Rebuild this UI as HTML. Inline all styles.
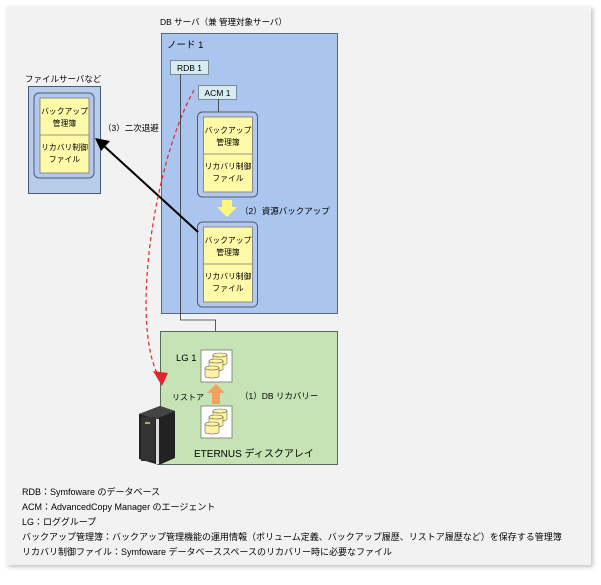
<!DOCTYPE html>
<html><head><meta charset="utf-8"><style>
html,body{margin:0;padding:0;background:#fff;}
svg text{font-family:"Liberation Sans","Noto Sans CJK JP",sans-serif;font-size:8.5px;fill:#000;}
svg text.lg{font-size:9px;}
svg text.s7{font-size:7.8px;}
svg text.s10{font-size:9.5px;}
svg text.s11{font-size:10px;}
svg text.s8{font-size:8px;}
</style></head><body>
<svg width="601" height="580" viewBox="0 0 601 580" xmlns="http://www.w3.org/2000/svg">
<defs>
<filter id="sh" x="-5%" y="-5%" width="110%" height="110%"><feDropShadow dx="2" dy="2" stdDeviation="2" flood-color="#999" flood-opacity="0.6"/></filter>
<g id="docs">
  <rect x="0" y="0" width="60" height="85" rx="5" fill="#b3c8ec" stroke="#505a70" stroke-width="1"/>
  <rect x="6" y="5" width="49" height="75" fill="#fffaa8" stroke="#777" stroke-width="0.8"/>
  <line x1="6" y1="42" x2="55" y2="42" stroke="#777" stroke-width="0.8"/>
  <text class="s7" x="30.5" y="21" text-anchor="middle">バックアップ</text>
  <text class="s7" x="30.5" y="33" text-anchor="middle">管理簿</text>
  <text class="s7" x="30.5" y="57" text-anchor="middle">リカバリ制御</text>
  <text class="s7" x="30.5" y="69" text-anchor="middle">ファイル</text>
</g>
<g id="disk">
  <rect x="0" y="0" width="31" height="32" fill="#fff" stroke="#777" stroke-width="0.8"/>
  <g fill="#fff2a0" stroke="#666" stroke-width="0.6">
    <path d="M12 5 h14 v8 a7 2 0 0 1 -14 0 z"/><ellipse cx="19" cy="5" rx="7" ry="2"/>
    <path d="M8 11 h14 v8 a7 2 0 0 1 -14 0 z"/><ellipse cx="15" cy="11" rx="7" ry="2"/>
    <path d="M4 18 h14 v8 a7 2 0 0 1 -14 0 z"/><ellipse cx="11" cy="18" rx="7" ry="2"/>
  </g>
</g>
</defs>
<rect x="6" y="6" width="585" height="559" fill="#f2f2f2" filter="url(#sh)"/>

<text x="25" y="82">ファイルサーバなど</text>
<rect x="28.5" y="86.5" width="72" height="107" fill="#b7cdea" stroke="#4a5a78"/>
<use href="#docs" x="34" y="93"/>
<text x="103" y="131">（3）二次退避</text>

<text x="160" y="25">DB サーバ（兼 管理対象サーバ）</text>
<rect x="161.5" y="33.5" width="176" height="280" fill="#abc6ee" stroke="#5a6a80"/>
<text class="s10" x="167" y="48">ノード 1</text>
<rect x="170.5" y="60.5" width="38" height="14" fill="#d6ecf2" stroke="#7a8a98"/>
<text x="189.5" y="71" text-anchor="middle">RDB 1</text>
<rect x="198.5" y="85.5" width="38" height="14" fill="#d6ecf2" stroke="#7a8a98"/>
<text x="217.5" y="96" text-anchor="middle">ACM 1</text>
<line x1="218.5" y1="99" x2="218.5" y2="112" stroke="#333" stroke-width="0.8"/>
<use href="#docs" x="197.5" y="112"/>
<path d="M222 200 h10 v7 h5 l-10 10 l-10 -10 h5 z" fill="#fff57a"/>
<text x="240" y="214">（2）資源バックアップ</text>
<use href="#docs" x="197.5" y="222"/>
<polyline points="180.5,74 180.5,320 215.5,320 215.5,350" fill="none" stroke="#333" stroke-width="0.8"/>

<line x1="198" y1="232" x2="104" y2="146" stroke="#000" stroke-width="2"/>
<path d="M95 138 L110 141 L101 151 Z" fill="#000"/>

<rect x="160.5" y="331.5" width="177" height="133" fill="#c5e3b5" stroke="#5a6a5a"/>
<text class="s10" x="176" y="361">LG 1</text>
<use href="#disk" x="201" y="350"/>
<path d="M212 404 v-11 h-5 l9 -9 l9 9 h-5 v11 z" fill="#f4a060"/>
<text class="s8" x="172" y="400">リストア</text>
<text x="240" y="399">（1）DB リカバリー</text>
<use href="#disk" x="201" y="406"/>
<text class="s11" x="194" y="457">ETERNUS ディスクアレイ</text>

<path d="M194 90 C155 160, 130 320, 158 375" fill="none" stroke="#e0262a" stroke-width="1.2" stroke-dasharray="4,3"/>
<path d="M162 386 L153 371 L168 373 Z" fill="#e0262a"/>

<path d="M139 414 L160 406 L175 411 L175 458 L159 465 L139 459 Z" fill="#222"/>
<path d="M139 414 L160 406 L175 411 L156 419 Z" fill="#444"/>
<rect x="141" y="417" width="14" height="44" fill="#333"/>
<rect x="156" y="419" width="3" height="45" fill="#ddd"/>
<rect x="145" y="422" width="5" height="2" fill="#c9a24a"/>

<text class="lg" x="22" y="495">RDB：Symfoware のデータベース</text>
<text class="lg" x="22" y="510">ACM：AdvancedCopy Manager のエージェント</text>
<text class="lg" x="22" y="525">LG：ロググループ</text>
<text class="lg" x="22" y="540">バックアップ管理簿：バックアップ管理機能の運用情報（ボリューム定義、バックアップ履歴、リストア履歴など）を保存する管理簿</text>
<text class="lg" x="22" y="555">リカバリ制御ファイル：Symfoware データベーススペースのリカバリー時に必要なファイル</text>
</svg>
</body></html>
